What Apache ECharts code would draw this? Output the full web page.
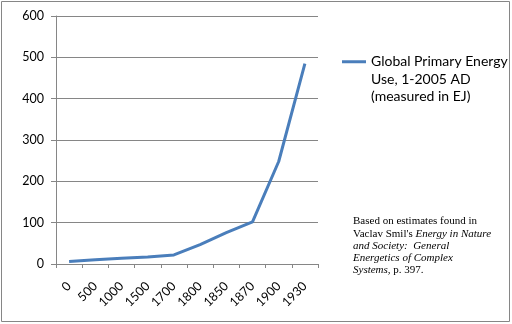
<!DOCTYPE html>
<html><head><meta charset="utf-8">
<script src="https://cdn.jsdelivr.net/npm/echarts@6/dist/echarts.min.js"></script>
<style>html,body{margin:0;padding:0;background:#fff}#c{width:512px;height:324px}</style>
</head><body><div id="c"></div>
<script>
const categories = ['0','500','1000','1500','1700','1800','1850','1870','1900','1930'];
const energyEJ = [6, 10, 14, 17, 22, 47, 76, 102, 248, 485];
const seriesName = 'Global Primary Energy\nUse, 1-2005 AD\n(measured in EJ)';
const yTicks = {min: 0, max: 600, interval: 100};

const chart = echarts.init(document.getElementById('c'), null, {renderer: 'canvas'});
const font = 'Lato, "Open Sans", sans-serif';
const serif = '"Liberation Serif", "Times New Roman", serif';
chart.setOption({
  animation: false,
  backgroundColor: '#fff',
  grid: {left: 56, right: 194, top: 16, bottom: 60},
  xAxis: {
    type: 'category', data: categories, boundaryGap: true,
    axisLine: {lineStyle: {color: '#868686', width: 1}},
    axisTick: {show: true, length: 4, lineStyle: {color: '#868686'}},
    axisLabel: {rotate: 45, color: '#000', fontFamily: font, fontSize: 12.5, margin: 20, interval: 0}
  },
  yAxis: {
    type: 'value', min: yTicks.min, max: yTicks.max, interval: yTicks.interval,
    axisLine: {show: true, lineStyle: {color: '#868686', width: 1}},
    axisTick: {show: true, length: 5, lineStyle: {color: '#868686'}},
    splitLine: {lineStyle: {color: '#868686', width: 1}},
    axisLabel: {color: '#000', fontFamily: font, fontSize: 12.5, margin: 12}
  },
  legend: {
    left: 337, top: 13, orient: 'vertical', padding: 5,
    itemWidth: 24, itemHeight: 3, itemGap: 0,
    icon: 'rect',
    formatter: function (name) { return '\n\n' + name; },
    textStyle: {color: '#000', fontFamily: font, fontSize: 14, lineHeight: 17.5},
    data: [seriesName]
  },
  series: [{
    name: seriesName, type: 'line', data: energyEJ,
    symbol: 'none', smooth: false,
    lineStyle: {color: '#4a7ebb', width: 3},
    itemStyle: {color: '#4a7ebb'}
  }],
  graphic: [
    {type: 'rect', shape: {x: 1.5, y: 1.5, width: 508, height: 320}, style: {fill: null, stroke: '#868686', lineWidth: 1}, z: -1},
    {type: 'text', left: 353, top: 216, style: {
      rich: {n: {fontFamily: serif, fontSize: 11, fill: '#000', lineHeight: 12.2},
             i: {fontFamily: serif, fontSize: 11, fontStyle: 'italic', fill: '#000', lineHeight: 12.2}},
      text: '{n|Based on estimates found in}\n{n|Vaclav Smil\'s }{i|Energy in Nature}\n{i|and Society:  General}\n{i|Energetics of Complex}\n{i|Systems}{n|, p. 397.}'
    }}
  ]
});
</script></body></html>
